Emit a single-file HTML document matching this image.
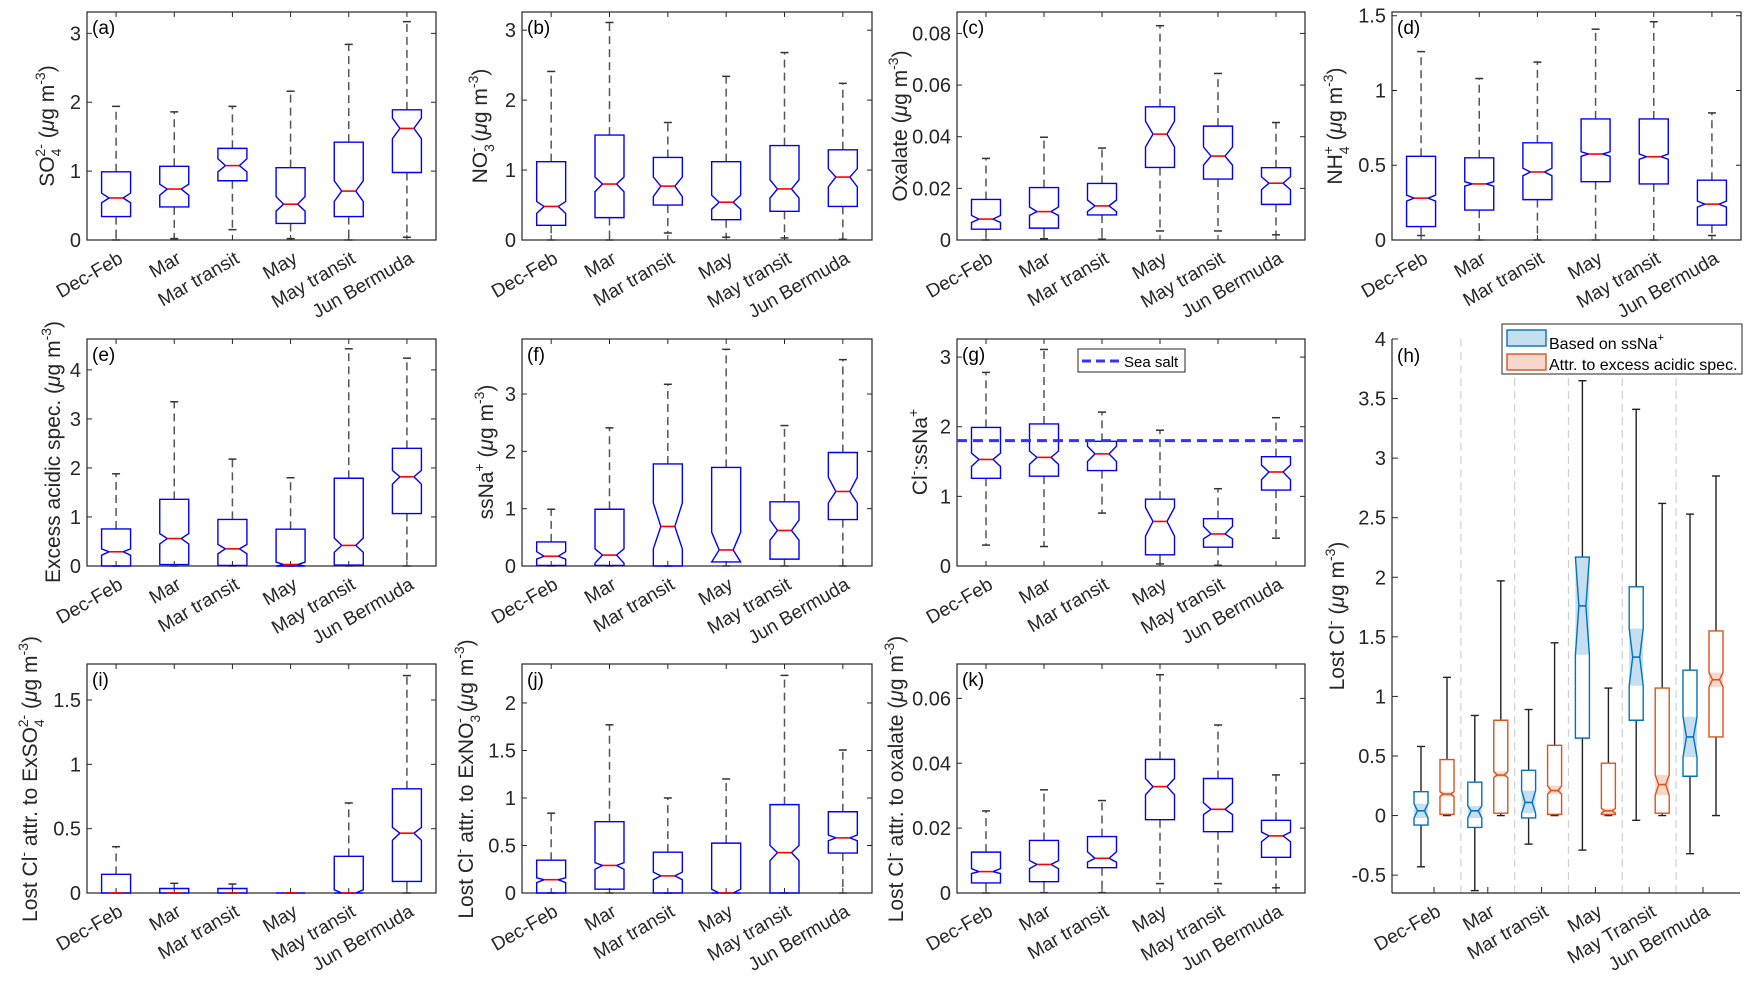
<!DOCTYPE html>
<html><head><meta charset="utf-8">
<style>
html,body{margin:0;padding:0;background:#fff;}
svg{display:block;font-family:"Liberation Sans",sans-serif;}
</style></head>
<body>
<svg id="fig" width="1758" height="981" viewBox="0 0 1758 981" xmlns="http://www.w3.org/2000/svg">
<rect width="1758" height="981" fill="#fff"/>
<!-- y axis titles -->
<g font-size="21" fill="#262626">
 <text transform="translate(54,126) rotate(-90)" text-anchor="middle">SO<tspan font-size="14" dy="7">4</tspan><tspan font-size="14" dx="-8" dy="-16">2-</tspan><tspan dy="9"> (</tspan><tspan font-style="italic">μ</tspan>g m<tspan font-size="14" dy="-9">-3</tspan><tspan dy="9">)</tspan></text>
 <text transform="translate(487,126) rotate(-90)" text-anchor="middle">NO<tspan font-size="14" dy="7">3</tspan><tspan font-size="14" dx="-8" dy="-16">-</tspan><tspan dy="9"> (</tspan><tspan font-style="italic">μ</tspan>g m<tspan font-size="14" dy="-9">-3</tspan><tspan dy="9">)</tspan></text>
 <text transform="translate(907,126) rotate(-90)" text-anchor="middle">Oxalate (<tspan font-style="italic">μ</tspan>g m<tspan font-size="14" dy="-9">-3</tspan><tspan dy="9">)</tspan></text>
 <text transform="translate(1342,126) rotate(-90)" text-anchor="middle">NH<tspan font-size="14" dy="7">4</tspan><tspan font-size="14" dx="-8" dy="-16">+</tspan><tspan dy="9"> (</tspan><tspan font-style="italic">μ</tspan>g m<tspan font-size="14" dy="-9">-3</tspan><tspan dy="9">)</tspan></text>
 <text transform="translate(60,452) rotate(-90)" text-anchor="middle">Excess acidic spec. (<tspan font-style="italic">μ</tspan>g m<tspan font-size="14" dy="-9">-3</tspan><tspan dy="9">)</tspan></text>
 <text transform="translate(493,452) rotate(-90)" text-anchor="middle">ssNa<tspan font-size="14" dy="-9">+</tspan><tspan dy="9"> (</tspan><tspan font-style="italic">μ</tspan>g m<tspan font-size="14" dy="-9">-3</tspan><tspan dy="9">)</tspan></text>
 <text transform="translate(927,452) rotate(-90)" text-anchor="middle">Cl<tspan font-size="14" dy="-9">-</tspan><tspan dy="9">:ssNa</tspan><tspan font-size="14" dy="-9">+</tspan></text>
 <text transform="translate(1344,616) rotate(-90)" text-anchor="middle">Lost Cl<tspan font-size="14" dy="-9">-</tspan><tspan dy="9"> (</tspan><tspan font-style="italic">μ</tspan>g m<tspan font-size="14" dy="-9">-3</tspan><tspan dy="9">)</tspan></text>
 <text transform="translate(37,779) rotate(-90)" text-anchor="middle">Lost Cl<tspan font-size="14" dy="-9">-</tspan><tspan dy="9"> attr. to ExSO</tspan><tspan font-size="14" dy="7">4</tspan><tspan font-size="14" dx="-8" dy="-16">2-</tspan><tspan dy="9"> (</tspan><tspan font-style="italic">μ</tspan>g m<tspan font-size="14" dy="-9">-3</tspan><tspan dy="9">)</tspan></text>
 <text transform="translate(473,779) rotate(-90)" text-anchor="middle">Lost Cl<tspan font-size="14" dy="-9">-</tspan><tspan dy="9"> attr. to ExNO</tspan><tspan font-size="14" dy="7">3</tspan><tspan font-size="14" dx="-8" dy="-16">-</tspan><tspan dy="9"> (</tspan><tspan font-style="italic">μ</tspan>g m<tspan font-size="14" dy="-9">-3</tspan><tspan dy="9">)</tspan></text>
 <text transform="translate(903,779) rotate(-90)" text-anchor="middle">Lost Cl<tspan font-size="14" dy="-9">-</tspan><tspan dy="9"> attr. to oxalate (</tspan><tspan font-style="italic">μ</tspan>g m<tspan font-size="14" dy="-9">-3</tspan><tspan dy="9">)</tspan></text>
</g>
</svg>
<script>
const categories = ["Dec-Feb","Mar","Mar transit","May","May transit","Jun Bermuda"];
const categoriesH = ["Dec-Feb","Mar","Mar transit","May","May Transit","Jun Bermuda"];
// stats per category: [whiskerLow, q1, notchLow, median, notchHigh, q3, whiskerHigh]
const so4Stats = [[0,0.34,0.54,0.61,0.68,0.99,1.94],[0.02,0.48,0.65,0.74,0.81,1.07,1.86],[0.15,0.86,0.99,1.08,1.18,1.33,1.94],[0.02,0.24,0.42,0.52,0.63,1.05,2.16],[0,0.34,0.56,0.71,0.86,1.42,2.84],[0.04,0.98,1.47,1.62,1.77,1.89,3.17]];
const no3Stats = [[0,0.21,0.38,0.48,0.55,1.12,2.41],[0,0.32,0.69,0.80,0.90,1.50,3.11],[0.10,0.50,0.62,0.77,0.90,1.18,1.68],[0.04,0.29,0.44,0.54,0.64,1.12,2.34],[0.03,0.41,0.60,0.73,0.86,1.35,2.68],[0.01,0.48,0.76,0.90,1.02,1.29,2.24]];
const oxStats = [[0,0.0042,0.0068,0.0081,0.0095,0.0157,0.0316],[0.0005,0.0046,0.0095,0.011,0.0128,0.0203,0.0398],[0.0003,0.0097,0.011,0.0132,0.0155,0.0219,0.0356],[0.0035,0.0281,0.036,0.041,0.046,0.0516,0.083],[0.0035,0.0236,0.029,0.0325,0.036,0.0441,0.0645],[0.002,0.0138,0.0195,0.022,0.0245,0.028,0.0455]];
const nh4Stats = [[0.03,0.09,0.26,0.28,0.30,0.56,1.26],[0,0.20,0.36,0.375,0.39,0.55,1.08],[0,0.27,0.43,0.455,0.48,0.65,1.19],[0,0.39,0.56,0.575,0.59,0.81,1.41],[0,0.375,0.54,0.557,0.575,0.81,1.46],[0.03,0.10,0.22,0.24,0.26,0.40,0.85]];
const acidStats = [[0,0,0.22,0.29,0.35,0.755,1.88],[0,0.03,0.45,0.56,0.66,1.36,3.35],[0,0.01,0.25,0.35,0.44,0.95,2.18],[0,0,0,0.03,0.08,0.75,1.80],[0,0.02,0.28,0.42,0.57,1.79,4.43],[0,1.07,1.67,1.82,1.95,2.40,4.24]];
const ssnaStats = [[0,0.01,0.12,0.17,0.25,0.42,0.99],[0,0.01,0.05,0.19,0.30,0.99,2.41],[0,0,0.3,0.69,1.1,1.78,3.17],[0,0.07,0.07,0.28,0.59,1.72,3.78],[0,0.12,0.45,0.62,0.80,1.12,2.45],[0,0.81,1.1,1.30,1.55,1.98,3.60]];
const ratioStats = [[0.30,1.26,1.43,1.53,1.62,1.99,2.78],[0.28,1.29,1.46,1.56,1.65,2.04,3.11],[0.76,1.37,1.50,1.61,1.72,1.79,2.21],[0.03,0.16,0.43,0.64,0.84,0.96,1.95],[0.01,0.27,0.39,0.46,0.57,0.68,1.11],[0.40,1.09,1.24,1.35,1.45,1.57,2.13]];
const seaSaltRatio = 1.8;
const lostSo4Stats = [[0,0,0,0,0,0.145,0.36],[0,0,0,0,0,0.035,0.075],[0,0,0,0,0,0.035,0.07],[0,0,0,0,0,0,0],[0,0,0,0,0.025,0.285,0.70],[0,0.09,0.41,0.465,0.51,0.81,1.69]];
const lostNo3Stats = [[0,0,0.11,0.14,0.16,0.345,0.84],[0,0.04,0.25,0.29,0.32,0.75,1.77],[0,0,0.14,0.18,0.22,0.43,1.0],[0,0,0,0,0.04,0.525,1.2],[0,0,0.34,0.425,0.50,0.93,2.29],[0,0.42,0.55,0.58,0.61,0.855,1.505]];
const lostOxStats = [[0,0.0031,0.006,0.0066,0.0075,0.0126,0.0253],[0.0001,0.0035,0.0075,0.0088,0.010,0.0162,0.0318],[0.0001,0.0078,0.0095,0.0107,0.0127,0.0174,0.0285],[0.0029,0.0226,0.0303,0.0328,0.0353,0.0412,0.0673],[0.0029,0.0189,0.0242,0.0258,0.0278,0.0353,0.0518],[0.0016,0.011,0.0158,0.0176,0.0188,0.0224,0.0364]];
const lostSsnaStats = [[-0.43,-0.08,-0.02,0.04,0.10,0.20,0.58],[-0.63,-0.10,-0.02,0.04,0.08,0.28,0.84],[-0.24,-0.02,0.02,0.11,0.21,0.38,0.89],[-0.29,0.65,1.35,1.76,2.17,2.17,3.65],[-0.04,0.80,1.09,1.33,1.57,1.92,3.41],[-0.32,0.33,0.49,0.66,0.83,1.22,2.53]];
const lostAcidStats = [[0,0.01,0.16,0.18,0.20,0.47,1.16],[0,0.02,0.32,0.34,0.37,0.80,1.97],[0,0.01,0.18,0.21,0.25,0.59,1.45],[0,0.01,0.02,0.04,0.06,0.44,1.07],[0,0.02,0.17,0.26,0.34,1.07,2.62],[0,0.66,1.08,1.14,1.20,1.55,2.85]];
const ticksA=[0,1,2,3], ticksB=[0,1,2,3], ticksC=[0,0.02,0.04,0.06,0.08], ticksD=[0,0.5,1,1.5];
const ticksE=[0,1,2,3,4], ticksF=[0,1,2,3], ticksG=[0,1,2,3];
const ticksI=[0,0.5,1,1.5], ticksJ=[0,0.5,1,1.5,2], ticksK=[0,0.02,0.04,0.06];
const ticksH=[-0.5,0,0.5,1,1.5,2,2.5,3,3.5,4];

const NS="http://www.w3.org/2000/svg";
const svg=document.getElementById('fig');
function mk(tag,attrs,parent){const e=document.createElementNS(NS,tag);for(const k in attrs)e.setAttribute(k,attrs[k]);(parent||svg).appendChild(e);return e;}
function fmt(v){return String(+v.toFixed(3));}

function panel(id,L,T,W,H,ymax,ticks,stats,label){
  const g=mk('g',{});
  
  
  const B=T+H;
  const y=v=>B-v/ymax*H;
  const x=i=>L+W*(i+0.5)/6;
  const frame=mk('rect',{x:L,y:T,width:W,height:H,fill:'none',stroke:'#262626','stroke-width':1.2},g);
  
  
  ticks.forEach(t=>{
    const yy=y(t);
    mk('line',{x1:L,x2:L+5,y1:yy,y2:yy,stroke:'#262626'},g);
    mk('line',{x1:L+W-5,x2:L+W,y1:yy,y2:yy,stroke:'#262626'},g);
    const tl=mk('text',{x:L-6,y:yy+7,'text-anchor':'end','font-size':20,fill:'#262626'},g);
    tl.textContent=fmt(t);
    
    
  });
  categories.forEach((c,i)=>{
    const xx=x(i);
    mk('line',{x1:xx,x2:xx,y1:B,y2:B-5,stroke:'#262626'},g);
    mk('line',{x1:xx,x2:xx,y1:T,y2:T+5,stroke:'#262626'},g);
    const tl=mk('text',{transform:`translate(${xx+8},${B+22}) rotate(-30)`,'text-anchor':'end','font-size':19,fill:'#262626'},g);
    tl.textContent=c;
    
    
  });
  const pl=mk('text',{x:L+5,y:T+22,'font-size':19,fill:'#000'},g);
  pl.textContent='('+id+')';
  
  
  stats.forEach((s,i)=>{
    const [wl,q1,nl0,md,nh0,q3,wh]=s;
    const nl=Math.max(nl0,q1), nh=Math.min(nh0,q3);
    const xx=x(i), hw=14.5, iw=7;
    const bg=mk('g',{},g);
    
    
    if(wh>q3){
      mk('line',{x1:xx,x2:xx,y1:y(q3),y2:y(wh),stroke:'#555','stroke-width':1.5,'stroke-dasharray':'8,5'},bg);
    }
    mk('line',{x1:xx-4,x2:xx+4,y1:y(wh),y2:y(wh),stroke:'#333','stroke-width':1.5},bg);
    if(wl<q1){
      mk('line',{x1:xx,x2:xx,y1:y(q1),y2:y(wl),stroke:'#555','stroke-width':1.5,'stroke-dasharray':'8,5'},bg);
    }
    mk('line',{x1:xx-4,x2:xx+4,y1:y(wl),y2:y(wl),stroke:'#333','stroke-width':1.5},bg);
    const pts=[[xx-hw,y(q1)],[xx-hw,y(nl)],[xx-iw,y(md)],[xx-hw,y(nh)],[xx-hw,y(q3)],[xx+hw,y(q3)],[xx+hw,y(nh)],[xx+iw,y(md)],[xx+hw,y(nl)],[xx+hw,y(q1)]];
    mk('polygon',{points:pts.map(p=>p.join(',')).join(' '),fill:'none',stroke:'#0000ff','stroke-width':1.4},bg);
    mk('line',{x1:xx-iw,x2:xx+iw,y1:y(md),y2:y(md),stroke:'#ff0000','stroke-width':1.6},bg);
  });
  return {g,y,L,W};
}

panel('a',87,12,349,228,3.31,ticksA,so4Stats);
panel('b',522,12,350,228,3.26,ticksB,no3Stats);
panel('c',957,12,348,228,0.0883,ticksC,oxStats);
panel('d',1392,12,349,228,1.525,ticksD,nh4Stats);
panel('e',87,339,349,227,4.63,ticksE,acidStats);
panel('f',522,339,350,227,3.96,ticksF,ssnaStats);
const pg=panel('g',957,339,348,227,3.26,ticksG,ratioStats);
panel('i',87,664,349,229,1.78,ticksI,lostSo4Stats);
panel('j',522,664,350,229,2.41,ticksJ,lostNo3Stats);
panel('k',957,664,348,229,0.0706,ticksK,lostOxStats);

// sea salt line & legend in g
const ss=mk('line',{x1:957,x2:1305,y1:pg.y(seaSaltRatio),y2:pg.y(seaSaltRatio),stroke:'#3333ff','stroke-width':3,'stroke-dasharray':'10,6'});


const lgG=mk('g',{});


mk('rect',{x:1078,y:349,width:107,height:23,fill:'#fff',stroke:'#262626'},lgG);
mk('line',{x1:1082,x2:1120,y1:361,y2:361,stroke:'#3333ff','stroke-width':3,'stroke-dasharray':'9,5'},lgG);
const lgt=mk('text',{x:1124,y:367,'font-size':15,fill:'#000'},lgG);
lgt.textContent='Sea salt';

// panel h
const hL=1392,hT=339,hB=893,hR=1740,hMin=-0.65,hMax=4.0;
const hy=v=>hB-(v-hMin)/(hMax-hMin)*(hB-hT);
const hx=i=>1434+i*53.8;
const hg=mk('g',{});


for(let i=0;i<5;i++){
  const xx=(hx(i)+hx(i+1))/2;
  const sep=mk('line',{x1:xx,x2:xx,y1:hT,y2:hB,stroke:'#d0d0d0','stroke-width':1.2,'stroke-dasharray':'8,5'},hg);
  
  
}
mk('line',{x1:hL,x2:hL,y1:hT,y2:hB,stroke:'#262626','stroke-width':1.2},hg);
mk('line',{x1:hL,x2:hR,y1:hB,y2:hB,stroke:'#262626','stroke-width':1.2},hg);
ticksH.forEach(t=>{
  const yy=hy(t);
  mk('line',{x1:hL,x2:hL+6,y1:yy,y2:yy,stroke:'#262626'},hg);
  const tl=mk('text',{x:hL-6,y:yy+7,'text-anchor':'end','font-size':20,fill:'#262626'},hg);
  tl.textContent=fmt(t);
  
  
});
categoriesH.forEach((c,i)=>{
  const xx=hx(i);
  mk('line',{x1:xx,x2:xx,y1:hB,y2:hB-6,stroke:'#262626'},hg);
  const tl=mk('text',{transform:`translate(${xx+8},${hB+22}) rotate(-30)`,'text-anchor':'end','font-size':19,fill:'#262626'},hg);
  tl.textContent=c;
  
  
});
const hl=mk('text',{x:1397,y:362,'font-size':19,fill:'#000'},hg);
hl.textContent='(h)';
function hbox(s,xx,col,fillc,name){
  const [wl,q1,nl0,md,nh0,q3,wh]=s;
  const nl=Math.max(nl0,q1), nh=Math.min(nh0,q3);
  const hw=7, iw=3.5;
  const bg=mk('g',{},hg);
  
  
  mk('line',{x1:xx,x2:xx,y1:hy(q3),y2:hy(wh),stroke:'#222','stroke-width':1.4},bg);
  mk('line',{x1:xx-4,x2:xx+4,y1:hy(wh),y2:hy(wh),stroke:'#222','stroke-width':1.4},bg);
  mk('line',{x1:xx,x2:xx,y1:hy(q1),y2:hy(wl),stroke:'#222','stroke-width':1.4},bg);
  mk('line',{x1:xx-4,x2:xx+4,y1:hy(wl),y2:hy(wl),stroke:'#222','stroke-width':1.4},bg);
  mk('rect',{x:xx-hw,y:hy(nh),width:2*hw,height:Math.max(0,hy(nl)-hy(nh)),fill:fillc},bg);
  const pts=[[xx-hw,hy(q1)],[xx-hw,hy(nl)],[xx-iw,hy(md)],[xx-hw,hy(nh)],[xx-hw,hy(q3)],[xx+hw,hy(q3)],[xx+hw,hy(nh)],[xx+iw,hy(md)],[xx+hw,hy(nl)],[xx+hw,hy(q1)]];
  mk('polygon',{points:pts.map(p=>p.join(',')).join(' '),fill:'none',stroke:col,'stroke-width':1.4},bg);
  mk('line',{x1:xx-iw,x2:xx+iw,y1:hy(md),y2:hy(md),stroke:col,'stroke-width':1.6},bg);
}
lostSsnaStats.forEach((s,i)=>hbox(s,hx(i)-13,'#0072BD','#c5dff0','box-h-ssna-'+i));
lostAcidStats.forEach((s,i)=>hbox(s,hx(i)+13,'#D95319','#f6d7cb','box-h-acid-'+i));
// legend h
const lh=mk('g',{});


mk('rect',{x:1502,y:324,width:240,height:50,fill:'#fff',stroke:'#262626'},lh);
mk('rect',{x:1507,y:330,width:39,height:16,fill:'#c5dff0',stroke:'#0072BD','stroke-width':1.4},lh);
mk('rect',{x:1507,y:354,width:39,height:16,fill:'#f6d7cb',stroke:'#D95319','stroke-width':1.4},lh);
const t1=mk('text',{x:1549,y:349,'font-size':16,fill:'#000'},lh);
t1.innerHTML='Based on ssNa<tspan font-size="11" dy="-8">+</tspan>';
const t2=mk('text',{x:1549,y:370,'font-size':16,fill:'#000'},lh);
t2.textContent='Attr. to excess acidic spec.';
</script>
</body></html>
